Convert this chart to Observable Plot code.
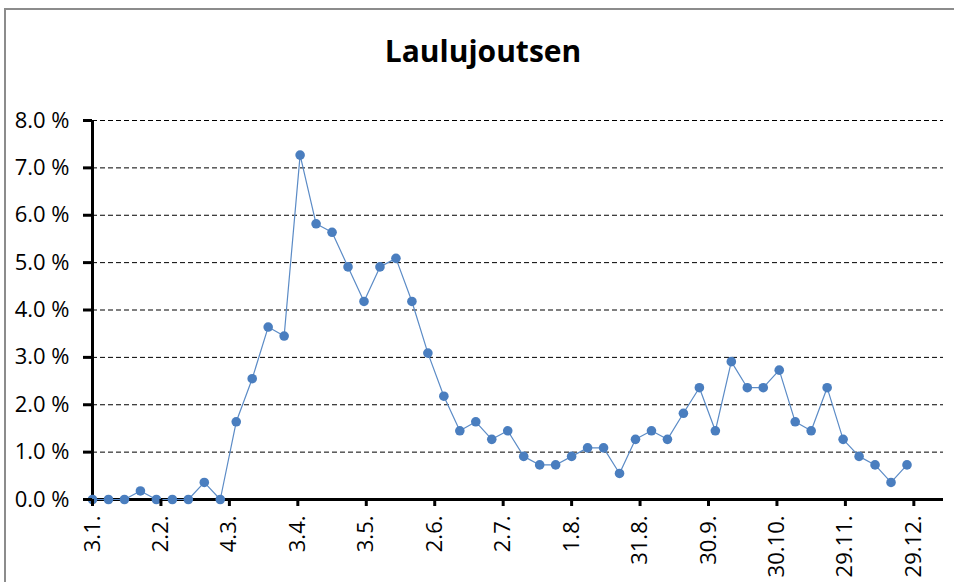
<!DOCTYPE html>
<html><head><meta charset="utf-8">
<script src="https://cdn.jsdelivr.net/npm/d3@7"></script>
<script src="https://cdn.jsdelivr.net/npm/@observablehq/plot@0.6"></script>
<style>
body{margin:0;background:#fff;}
#wrap{position:relative;width:954px;height:582px;overflow:hidden;background:#fff;font-family:"Open Sans",sans-serif;}
#frame{position:absolute;left:4px;top:8px;width:1200px;height:1200px;border-left:2px solid #8c8c8c;border-top:2px solid #8c8c8c;pointer-events:none;}
#title{height:100px;box-sizing:border-box;padding-top:36px;text-align:center;font-weight:700;font-size:30px;line-height:30px;color:#000;padding-left:12px;}
#chart svg{display:block;}
</style></head>
<body>
<div id="wrap">
<div id="frame"></div>
<div id="title">Laulujoutsen</div>
<div id="chart"></div>
</div>
<script>
const dates = [
"2019-01-03","2019-01-10","2019-01-17","2019-01-24","2019-01-31",
"2019-02-07","2019-02-14","2019-02-21","2019-02-28",
"2019-03-07","2019-03-14","2019-03-21","2019-03-28",
"2019-04-04","2019-04-11","2019-04-18","2019-04-25",
"2019-05-02","2019-05-09","2019-05-16","2019-05-23","2019-05-30",
"2019-06-06","2019-06-13","2019-06-20","2019-06-27",
"2019-07-04","2019-07-11","2019-07-18","2019-07-25",
"2019-08-01","2019-08-08","2019-08-15","2019-08-22","2019-08-29",
"2019-09-05","2019-09-12","2019-09-19","2019-09-26",
"2019-10-03","2019-10-10","2019-10-17","2019-10-24","2019-10-31",
"2019-11-07","2019-11-14","2019-11-21","2019-11-28",
"2019-12-05","2019-12-12","2019-12-19","2019-12-26"];
const shares = [
0,0,0,0.18,0,0,0,0.36,0,
1.64,2.55,3.64,3.45,
7.27,5.82,5.64,4.91,4.18,4.91,5.09,4.18,
3.09,2.18,1.45,1.64,1.27,1.45,
0.91,0.73,0.73,0.91,1.09,1.09,0.55,
1.27,1.45,1.27,1.82,2.36,1.45,
2.91,2.36,2.36,2.73,1.64,1.45,2.36,
1.27,0.91,0.73,0.36,0.73];
const tickDates = ["2019-01-03","2019-02-02","2019-03-04","2019-04-03","2019-05-03","2019-06-02","2019-07-02","2019-08-01","2019-08-31","2019-09-30","2019-10-30","2019-11-29","2019-12-29"];
const tickLabels = ["3.1.","2.2.","4.3.","3.4.","3.5.","2.6.","2.7.","1.8.","31.8.","30.9.","30.10.","29.11.","29.12."];
const yTicks = [0,1,2,3,4,5,6,7,8];
const xDomain = ["2019-01-03","2020-01-11"];

const data = dates.map((d,i) => ({date: new Date(d), value: shares[i]}));
const tDates = tickDates.map(d => new Date(d));
const labelByTime = new Map(tDates.map((d,i) => [+d, tickLabels[i]]));
const dom = xDomain.map(d => new Date(d));

const chart = Plot.plot({
  width: 954,
  height: 482,
  marginLeft: 92,
  marginRight: 11,
  marginTop: 20,
  marginBottom: 83,
  style: {fontFamily: '"Open Sans", sans-serif', background: "transparent", overflow: "visible"},
  x: {type: "utc", domain: dom, label: null},
  y: {domain: [0, 8], label: null},
  marks: [
    Plot.gridY(yTicks.filter(d => d > 0), {stroke: "#000", strokeOpacity: 1, strokeWidth: 1, strokeDasharray: "5,3"}),
    Plot.ruleX([dom[0]], {stroke: "#000", strokeWidth: 3}),
    Plot.ruleY([0], {stroke: "#000", strokeWidth: 3}),
    Plot.line(data, {x: "date", y: "value", stroke: "#5b8bc6", strokeWidth: 1.2}),
    Plot.dot(data, {x: "date", y: "value", r: 4.8, fill: "#4a7ebf", stroke: "none"}),
    Plot.axisY({ticks: yTicks, label: null, tickSize: 9, tickPadding: 14, strokeWidth: 3, stroke: "#000",
      tickFormat: d => d.toFixed(1) + " %", fontSize: 22, fill: "#000"}),
    Plot.axisX({ticks: tDates, label: null, tickSize: 7, tickPadding: 9, strokeWidth: 3, stroke: "#000",
      tickRotate: -90, tickFormat: d => labelByTime.get(+d), fontSize: 22, fill: "#000"})
  ]
});
document.getElementById("chart").appendChild(chart);
</script>
</body></html>
